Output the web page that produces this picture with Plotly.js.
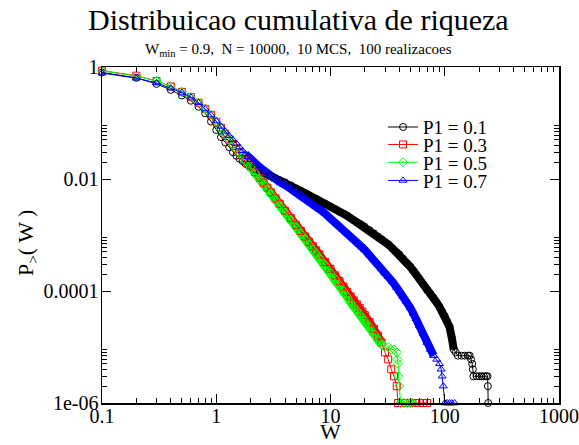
<!DOCTYPE html>
<html>
<head>
<meta charset="utf-8">
<script src="https://cdn.plot.ly/plotly-3.0.1.min.js"></script>
<style>
  html, body { margin: 0; padding: 0; background: #fff; }
  #chart { width: 579px; height: 445px; }
</style>
</head>
<body>
<div id="chart"></div>
<script>
// Cumulative wealth distribution P_>(W) for four values of P1
// W_min = 0.9, N = 10000, 10 MCS, 100 realisations

const w01 = [0.1,0.2,0.3,0.4,0.5,0.6,0.7,0.8,0.9,1.0,1.1,1.2,1.3,1.4,1.5,1.6,1.7,1.8,1.9,2.0,2.2,2.4,2.6,2.8,3.0,3.3,3.6,4.0,4.5,5.0,5.5,6.0,6.5,7.0,7.5,8.0,9.0,10,11,12,13,14,15,16,17,18,19,20,22,24,26,28,30,32,35,38,40,43,46,50,53,56,60,65,70,75,80,85,90,95,100,105,110,115,120,125,130,140,150,160,165,170,174,176,178,190,200,210,220,230,237,238.5,240];
const P01 = [0.80,0.64,0.50,0.39,0.31,0.25,0.195,0.149,0.106,0.075,0.056,0.045,0.037,0.030,0.026,0.023,0.021,0.019,0.0178,0.0166,0.0150,0.0138,0.0127,0.0119,0.0112,0.0103,0.0095,0.0087,0.0077,0.0068,0.0062,0.0056,0.0051,0.0047,0.0044,0.0041,0.0036,0.0032,0.0029,0.0026,0.0024,0.0022,0.0020,0.00185,0.0017,0.0016,0.0015,0.0014,0.00122,0.00107,0.00094,0.00084,0.00075,0.00068,0.00057,0.00049,0.00045,0.00038,0.00032,0.00027,0.00023,0.0002,0.000164,0.00013,0.000104,8.8e-5,7.5e-5,6.2e-5,5.2e-5,4.3e-5,3.6e-5,2.9e-5,2.3e-5,1.5e-5,9e-6,8e-6,7e-6,7e-6,7e-6,7e-6,7e-6,6e-6,5e-6,4e-6,3e-6,3e-6,3e-6,3e-6,3e-6,3e-6,3e-6,2e-6,1e-6];

const w03 = [0.1,0.2,0.3,0.4,0.5,0.6,0.7,0.8,0.9,1.0,1.1,1.2,1.3,1.4,1.5,1.6,1.7,1.8,1.9,2.0,2.2,2.4,2.6,2.8,3.0,3.3,3.6,4.0,4.5,5.0,5.5,6.0,6.5,7.0,7.5,8.0,9.0,10,11,12,13,14,15,16,17,18,19,20,22,24,26,28,30,32,34,36,38,39,45,50,55,60,65,70];
const P03 = [0.86,0.70,0.56,0.45,0.36,0.29,0.23,0.18,0.14,0.106,0.082,0.064,0.051,0.042,0.035,0.030,0.026,0.022,0.019,0.0168,0.0132,0.0105,0.0085,0.0070,0.0058,0.0045,0.0036,0.0027,0.0020,0.0015,0.00118,0.00094,0.00076,0.00063,0.00053,0.00045,0.00033,0.00025,0.00019,0.00015,0.00012,9.6e-5,8e-5,6.8e-5,5.8e-5,5e-5,4.3e-5,3.7e-5,2.8e-5,2.1e-5,1.6e-5,1.2e-5,8e-6,6e-6,4e-6,3e-6,2e-6,1e-6,1e-6,1e-6,1e-6,1e-6,1e-6,1e-6];

const w05 = [0.1,0.2,0.3,0.4,0.5,0.6,0.7,0.8,0.9,1.0,1.1,1.2,1.3,1.4,1.5,1.6,1.7,1.8,1.9,2.0,2.2,2.4,2.6,2.8,3.0,3.3,3.6,4.0,4.5,5.0,5.5,6.0,6.5,7.0,7.5,8.0,9.0,10,11,12,13,14,15,16,17,18,19,20,22,24,26,28,30,32,34,36,38,38.5,39,39.5,40,41,44,47,50,52];
const P05 = [0.85,0.69,0.56,0.45,0.36,0.29,0.23,0.18,0.14,0.105,0.081,0.063,0.050,0.041,0.034,0.029,0.025,0.021,0.0185,0.0163,0.0128,0.0100,0.0080,0.0066,0.0054,0.0042,0.0033,0.0025,0.0018,0.00135,0.00105,0.00083,0.00067,0.00055,0.00046,0.00039,0.00029,0.00021,0.000165,0.000128,0.0001,7.8e-5,6.2e-5,5.2e-5,4.5e-5,3.8e-5,3.3e-5,2.9e-5,2.3e-5,1.7e-5,1.3e-5,1.1e-5,1e-5,1e-5,9e-6,9e-6,8e-6,6e-6,5e-6,3e-6,2e-6,1e-6,1e-6,1e-6,1e-6,1e-6];

const w07 = [0.1,0.2,0.3,0.4,0.5,0.6,0.7,0.8,0.9,1.0,1.1,1.2,1.3,1.4,1.5,1.6,1.7,1.8,1.9,2.0,2.2,2.4,2.6,2.8,3.0,3.3,3.6,4.0,4.5,5.0,5.5,6.0,6.5,7.0,7.5,8.0,9.0,10,11,12,13,14,15,16,17,18,19,20,22,24,26,28,30,32,35,38,40,43,46,50,53,56,60,65,70,75,80,85,90,93,95,97,100,105,110,115,122];
const P07 = [0.78,0.63,0.52,0.42,0.35,0.287,0.23,0.178,0.139,0.108,0.087,0.071,0.059,0.050,0.043,0.037,0.032,0.028,0.025,0.022,0.019,0.0163,0.0143,0.0125,0.0112,0.0098,0.0088,0.0078,0.0067,0.0058,0.0051,0.0045,0.0040,0.0036,0.0032,0.0029,0.0024,0.0020,0.0017,0.00145,0.00125,0.0011,0.00095,0.00084,0.00075,0.00067,0.0006,0.00054,0.00044,0.00036,0.0003,0.00025,0.00021,0.00018,0.000145,0.000115,0.0001,8e-5,6.5e-5,5e-5,4e-5,3.2e-5,2.4e-5,1.7e-5,1.2e-5,9e-6,7e-6,6e-6,5e-6,4e-6,3e-6,2e-6,1e-6,1e-6,1e-6,1e-6,1e-6];

const seriesNames = ['P1 = 0.1', 'P1 = 0.3', 'P1 = 0.5', 'P1 = 0.7'];

const xMajor = [0.1, 1, 10, 100, 1000];
const xMajorText = ['0.1', '1', '10', '100', '1000'];
const yMajor = [1e-6, 1e-4, 1e-2, 1];
const yMajorText = ['1e-06', '0.0001', '0.01', '1'];

// minor ticks: k * major for k = 2..9
function minorsOf(majors) {
  const out = [];
  majors.forEach(m => { for (let k = 2; k <= 9; k++) out.push(k * m); });
  return out;
}

const styles = [
  { color: '#000000', symbol: 'circle-open',      bandMax: 120 },
  { color: '#ff0000', symbol: 'square-open',      bandMax: 28 },
  { color: '#00ff00', symbol: 'diamond-open',     bandMax: 28 },
  { color: '#0000ff', symbol: 'triangle-up-open', bandMax: 80 }
];
const xs = [w01, w03, w05, w07];
const ys = [P01, P03, P05, P07];

const serif = 'Liberation Serif';

const traces = [];
// dense part of each curve, where the symbols merge into a solid band
xs.forEach((x, i) => {
  const bx = [], by = [];
  x.forEach((v, j) => { if (v >= 1.8 && v <= styles[i].bandMax) { bx.push(v); by.push(ys[i][j]); } });
  traces.push({
    x: bx, y: by, type: 'scatter', mode: 'lines',
    line: { color: styles[i].color, width: 8 },
    showlegend: false, hoverinfo: 'skip', cliponaxis: false
  });
});
// one legend box per series so the rows sit as close as in a Grace legend
const legendRows = [0.821, 0.769, 0.716, 0.662];
const legendBoxes = {};
xs.forEach((x, i) => {
  const key = i === 0 ? 'legend' : 'legend' + (i + 1);
  legendBoxes[key] = {
    x: 0.615, y: legendRows[i], xanchor: 'left', yanchor: 'middle',
    bgcolor: 'rgba(0,0,0,0)', borderwidth: 0,
    font: { family: serif, size: 19, color: '#000' },
    itemwidth: 30
  };
  traces.push({
    x: x, y: ys[i], name: seriesNames[i], type: 'scatter', mode: 'lines+markers',
    legend: key, showlegend: true,
    line: { color: styles[i].color, width: 1 },
    marker: { symbol: styles[i].symbol, size: 7, color: styles[i].color, line: { width: 1, color: styles[i].color } },
    cliponaxis: false
  });
});

const layout = Object.assign({
  width: 579, height: 445,
  margin: { l: 102, r: 20, t: 67, b: 42 },
  paper_bgcolor: '#fff', plot_bgcolor: '#fff',
  font: { family: serif, color: '#000' },
  showlegend: true,
  xaxis: {
    type: 'log', range: [-1, 3],
    tickmode: 'array', tickvals: xMajor, ticktext: xMajorText,
    ticks: 'inside', ticklen: 9, tickwidth: 1, tickcolor: '#000',
    minor: { tickmode: 'array', tickvals: minorsOf([0.1, 1, 10, 100]), ticks: 'inside', ticklen: 5, tickwidth: 1, tickcolor: '#000' },
    showline: true, linecolor: '#000', linewidth: 1.5, mirror: 'allticks',
    showgrid: false, zeroline: false, ticklabelstandoff: -6,
    tickfont: { family: serif, size: 20, color: '#000' }
  },
  yaxis: {
    type: 'log', range: [-6, 0],
    tickmode: 'array', tickvals: yMajor, ticktext: yMajorText,
    ticks: 'inside', ticklen: 9, tickwidth: 1, tickcolor: '#000',
    minor: { tickmode: 'array', tickvals: minorsOf([1e-6, 1e-4, 1e-2]), ticks: 'inside', ticklen: 5, tickwidth: 1, tickcolor: '#000' },
    showline: true, linecolor: '#000', linewidth: 1.5, mirror: 'allticks',
    showgrid: false, zeroline: false, ticklabelstandoff: -2,
    tickfont: { family: serif, size: 20, color: '#000' }
  },
  annotations: [
    { text: 'Distribuicao cumulativa de riqueza', xref: 'paper', yref: 'paper',
      x: 0.429, y: 1.142, xanchor: 'center', yanchor: 'middle', showarrow: false,
      font: { family: serif, size: 30, color: '#000' } },
    { text: 'W<sub>min</sub> = 0.9,\u00a0 N = 10000,\u00a0 10 MCS,\u00a0 100 realizacoes', xref: 'paper', yref: 'paper',
      x: 0.429, y: 1.052, xanchor: 'center', yanchor: 'middle', showarrow: false,
      font: { family: serif, size: 15, color: '#000' } },
    { text: 'W', xref: 'paper', yref: 'paper',
      x: 0.5, y: -0.125, xanchor: 'center', yanchor: 'bottom', showarrow: false, borderpad: 0,
      font: { family: serif, size: 22, color: '#000' } },
    { text: 'P<sub>&gt;</sub>( W )', xref: 'paper', yref: 'paper', textangle: -90,
      x: -0.164, y: 0.476, xanchor: 'center', yanchor: 'middle', showarrow: false,
      font: { family: serif, size: 22, color: '#000' } }
  ]
}, legendBoxes);

Plotly.newPlot('chart', traces, layout, { displayModeBar: false, staticPlot: true });
</script>
</body>
</html>
